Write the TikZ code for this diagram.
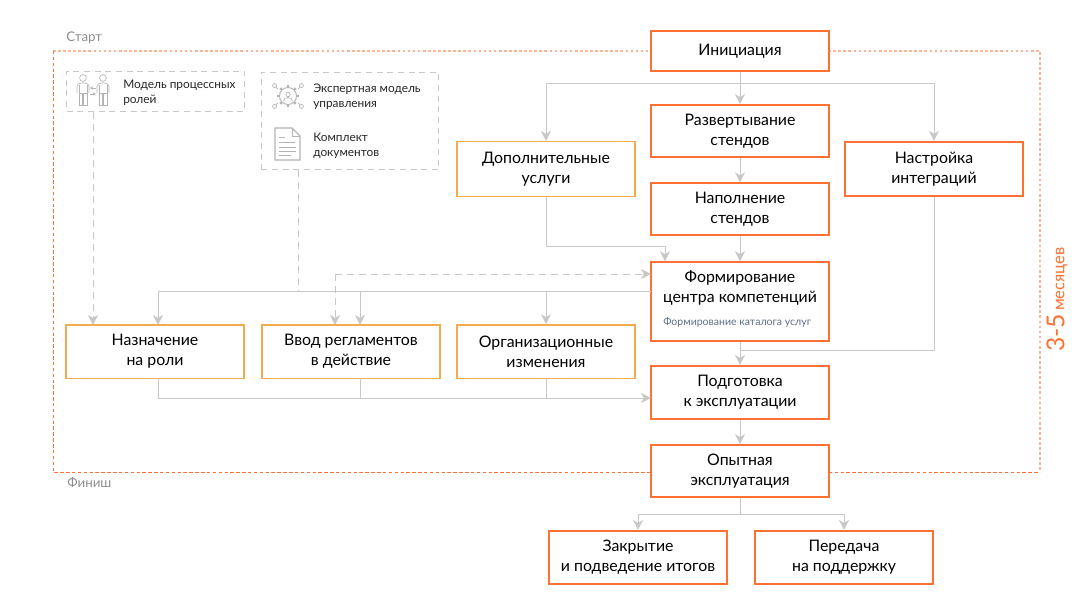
\documentclass[tikz,border=0pt]{standalone}
\usepackage{fontspec}
\setmainfont{Lato}
\usetikzlibrary{arrows.meta,calc}
\definecolor{orA}{HTML}{FF7033}
\definecolor{orB}{HTML}{F5AA4E}
\definecolor{lnG}{HTML}{C8C8C8}
\definecolor{frL}{HTML}{FBB396}
\definecolor{icG}{HTML}{B4B4B4}
\definecolor{txG}{HTML}{8E8E8E}
\definecolor{subT}{HTML}{5F6F8A}
\tikzset{
 x=0.75pt,y=-0.75pt,
 boxbase/.style={draw,fill=white,line width=1.3pt,minimum width=133.5pt,align=center,font=\fontsize{11.9}{15.2}\selectfont,text=black,inner sep=0pt},
 mainbox/.style={boxbase,draw=orA},
 sidebox/.style={boxbase,draw=orB,line width=1pt},
 link/.style={draw=lnG,line width=0.75pt},
 linkar/.style={link,-{Stealth[length=7.5pt,width=7.5pt,inset=2.2pt]}},
 dlink/.style={link,dash pattern=on 5pt off 4pt},
 dlinkar/.style={dlink,-{Stealth[length=7.5pt,width=7.5pt,inset=2.2pt]}},
 resbox/.style={draw=lnG,line width=0.75pt,dash pattern=on 4.5pt off 3.5pt},
 small/.style={font=\fontsize{8.9}{11.3}\selectfont,align=left,anchor=west,inner sep=0pt,text=black!85},
 hint/.style={font=\fontsize{10}{11}\selectfont,text=txG,inner sep=0pt},
 ic/.style={draw=icG,line width=0.5pt},
}
\begin{document}
\begin{tikzpicture}
\useasboundingbox (0,0) rectangle (1090,610);
% frame
\draw[frL,line width=1pt,dash pattern=on 2pt off 1.8pt] (53,51) -- (1040,51) -- (1040,472);
\draw[orA,line width=0.75pt,dash pattern=on 2.6pt off 1.8pt] (53,51) -- (53,472) -- (1040,472);
\node[hint,anchor=west] (start) at (66,38) {Старт};
\node[hint,anchor=west] (finish) at (67,483) {Финиш};
\node[rotate=90,text=orA,inner sep=0pt] (dur) at (1057,299.5) {{\fontsize{18.5}{18}\selectfont 3-5} {\fontsize{12.5}{12}\selectfont месяцев}};
% resource boxes
\node[resbox,minimum width=133.5pt,minimum height=30.5pt,inner sep=0pt] (res1) at (155.5,91.5) {};
\node[resbox,minimum width=133pt,minimum height=73pt,inner sep=0pt] (res2) at (350,121) {};
\node[small] (t1) at (123,92.5) {Модель процессных\\ролей};
\node[small] (t2) at (313,96.5) {Экспертная модель\\управления};
\node[small] (t3) at (313,146) {Комплект\\документов};
% people icon
\foreach \cx in {83,103}{
 \draw[ic] (\cx,78) circle (3.4);
 \draw[ic,rounded corners=1pt] (\cx-6,93) -- (\cx-6,85) -- (\cx-3,83) -- (\cx+3,83) -- (\cx+6,85) -- (\cx+6,93);
 \draw[ic] (\cx-4,85) -- (\cx-4,105.5) -- (\cx-0.5,105.5) -- (\cx-0.5,94) (\cx+0.5,94) -- (\cx+0.5,105.5) -- (\cx+4,105.5) -- (\cx+4,85);
 \draw[ic] (\cx-4,93) -- (\cx+4,93);
}
\draw[ic,-{Stealth[length=2.5pt,width=2.5pt]}] (96,88) -- (90,88);
\draw[ic,-{Stealth[length=2.5pt,width=2.5pt]}] (90,94) -- (96,94);
% gear icon
\draw[ic,line width=0.7pt] (288,96) circle (8.5);
\draw[ic] (288,94.5) circle (2.2);
\draw[ic] (283.5,101) arc (180:360:4.5 and 3.5);
\foreach \a in {0,45,...,315}{
 \draw[ic,line width=1.6pt] ($(288,96)+(\a:9)$) -- ($(288,96)+(\a:11)$);
}
\foreach \a/\b in {35/38,145/142,215/218,325/322}{
 \draw[ic] ($(288,96)+(\a:12)$) -- ($(288,96)+(\a:15)$);
 \draw[ic] ($(288,96)+(\b:17)$) circle (2);
}
% document icon
\draw[ic,line width=0.8pt] (275,128) -- (292,128) -- (300,136) -- (300,160) -- (275,160) -- cycle;
\draw[ic] (292,128) -- (292,136) -- (300,136);
\foreach \yy/\xa/\xb in {137/279/285,142/279/295,147/279/296,151/279/296,155/279/291}{
 \draw[ic] (\xa,\yy) -- (\xb,\yy);
}
% main boxes
\node[mainbox,minimum height=30pt] (init) at (740,51) {Инициация};
\node[mainbox,minimum height=39pt] (razv) at (740,131) {Развертывание\\стендов};
\node[mainbox,minimum height=39pt] (napo) at (740,209.3) {Наполнение\\стендов};
\node[sidebox,minimum height=41pt] (dop) at (546,169) {Дополнительные\\услуги};
\node[mainbox,minimum height=41pt] (nast) at (934,169) {Настройка\\интеграций};
\node[mainbox,minimum height=59pt] (form) at (740,301.5) {};
\node[inner sep=0pt,align=center,font=\fontsize{11.9}{15.2}\selectfont] (formt) at (740,288) {Формирование\\центра компетенций};
\node[inner sep=0pt,anchor=west,font=\fontsize{7.9}{9}\selectfont,text=subT] (forms) at (663,322) {Формирование каталога услуг};
\node[sidebox,minimum height=40pt] (nazn) at (155,351.5) {Назначение\\на роли};
\node[sidebox,minimum height=40pt] (vvod) at (351,351.5) {Ввод регламентов\\в действие};
\node[sidebox,minimum height=40pt] (orgz) at (546,351.5) {Организационные\\изменения};
\node[mainbox,minimum height=40pt] (podg) at (740,392.5) {Подготовка\\к эксплуатации};
\node[mainbox,minimum height=39pt] (opyt) at (740,471) {Опытная\\эксплуатация};
\node[mainbox,minimum height=40pt] (zakr) at (638,557.5) {Закрытие\\и подведение итогов};
\node[mainbox,minimum height=40pt] (pere) at (844,557.5) {Передача\\на поддержку};
% junctions
\coordinate (j1) at (740,84);
\coordinate (j2) at (665,246);
\coordinate (j3) at (740,350);
\coordinate (j4) at (740,514);
\coordinate (jb) at (651,398);
\coordinate (jf) at (651,291);
\coordinate (jdr) at (651,274);
\coordinate (jd) at (335,274);
% solid
\draw[link] (init.south) -- (j1);
\draw[linkar] (j1) -- (razv.north);
\draw[linkar] (j1) -| (dop.north);
\draw[linkar] (j1) -| (nast.north);
\draw[linkar] (razv.south) -- (napo.north);
\draw[linkar] (napo.south) -- (form.north);
\draw[link] (dop.south) |- (j2);
\draw[linkar] (j2) -- (j2 |- form.north);
\draw[linkar] (jf) -| (158,325);
\draw[linkar] (360,291) -- (360,325);
\draw[linkar] (546,291) -- (orgz.north);
\draw[linkar] (form.south) -- (podg.north);
\draw[link] (nast.south) |- (j3);
\draw[linkar] (158,378) |- (jb);
\draw[link] (360,378) -- (360,398);
\draw[link] (546,378) -- (546,398);
\draw[linkar] (podg.south) -- (opyt.north);
\draw[link] (opyt.south) -- (j4);
\draw[linkar] (j4) -| (zakr.north);
\draw[linkar] (j4) -| (pere.north);
% dashed
\draw[dlinkar] (93,112) -- (93,325);
\draw[dlink] (298,170) -- (298,291);
\draw[dlinkar] (jd) -- (jdr);
\draw[dlinkar] (jd) -- (335,325);
\end{tikzpicture}
\end{document}
